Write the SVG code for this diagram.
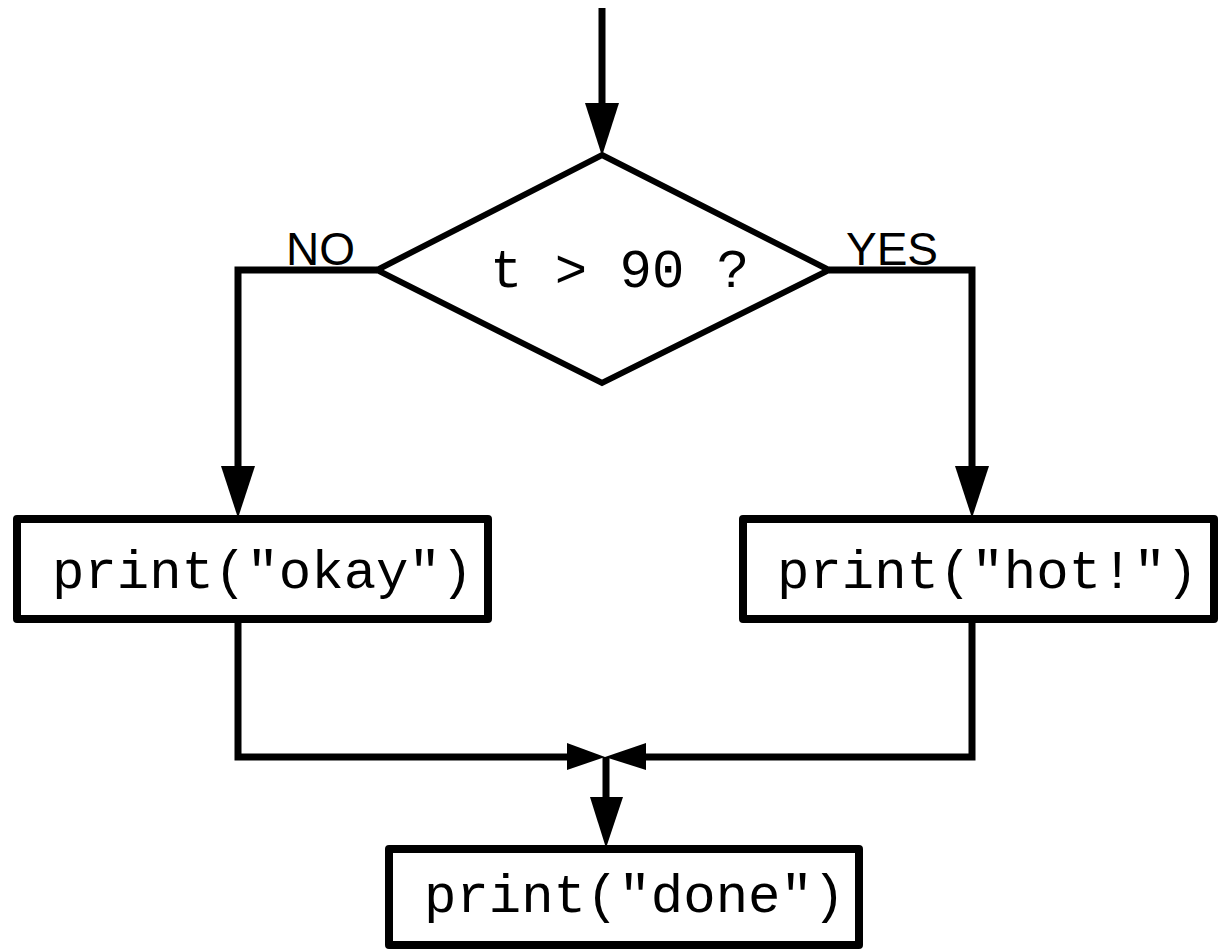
<svg xmlns="http://www.w3.org/2000/svg" width="1222" height="949" viewBox="0 0 1222 949">
<style>
.edge{fill:none;stroke:#000;stroke-width:7;stroke-linejoin:miter}
.box{fill:#fff;stroke:#000;stroke-width:8;stroke-linejoin:round}
.dia{fill:#fff;stroke:#000;stroke-width:6;stroke-linejoin:miter}
.mono{font-family:"Liberation Mono","Courier New",monospace;font-size:54px;fill:#000}
.lbl{font-family:"Liberation Sans",Arial,sans-serif;font-size:46px;fill:#000}
.ah{fill:#000;stroke:none}
</style>
<rect width="1222" height="949" fill="#fff"/>
<g id="connectors">
<path class="edge" d="M602 8 V110"/>
<polygon class="ah" points="585,103 619,103 602,156"/>
<path class="edge" d="M377 270 H238 V470"/>
<polygon class="ah" points="221,466 255,466 238,518"/>
<path class="edge" d="M829 270 H972 V470"/>
<polygon class="ah" points="955,466 989,466 972,518"/>
<path class="edge" d="M238 621 V757 H575"/>
<polygon class="ah" points="567,743 567,770 605,757"/>
<path class="edge" d="M972 621 V757 H638"/>
<polygon class="ah" points="646,743 646,770 605,757"/>
<path class="edge" d="M606 757 V800"/>
<polygon class="ah" points="590,797 623,797 606,848"/>
<text class="lbl" x="286" y="265">NO</text>
<text class="lbl" x="846" y="265">YES</text>
</g>
<g id="decision">
<polygon class="dia" points="602,155 829,270 602,383 377,270"/>
<text class="mono" x="490" y="287">t &gt; 90 ?</text>
</g>
<g id="okay">
<rect class="box" x="17" y="519" width="471" height="100"/>
<text class="mono" x="52" y="588">print("okay")</text>
</g>
<g id="hot">
<rect class="box" x="743" y="519" width="471" height="100"/>
<text class="mono" x="777" y="588">print("hot!")</text>
</g>
<g id="done">
<rect class="box" x="389" y="849" width="470" height="96"/>
<text class="mono" x="424" y="912">print("done")</text>
</g>
</svg>
